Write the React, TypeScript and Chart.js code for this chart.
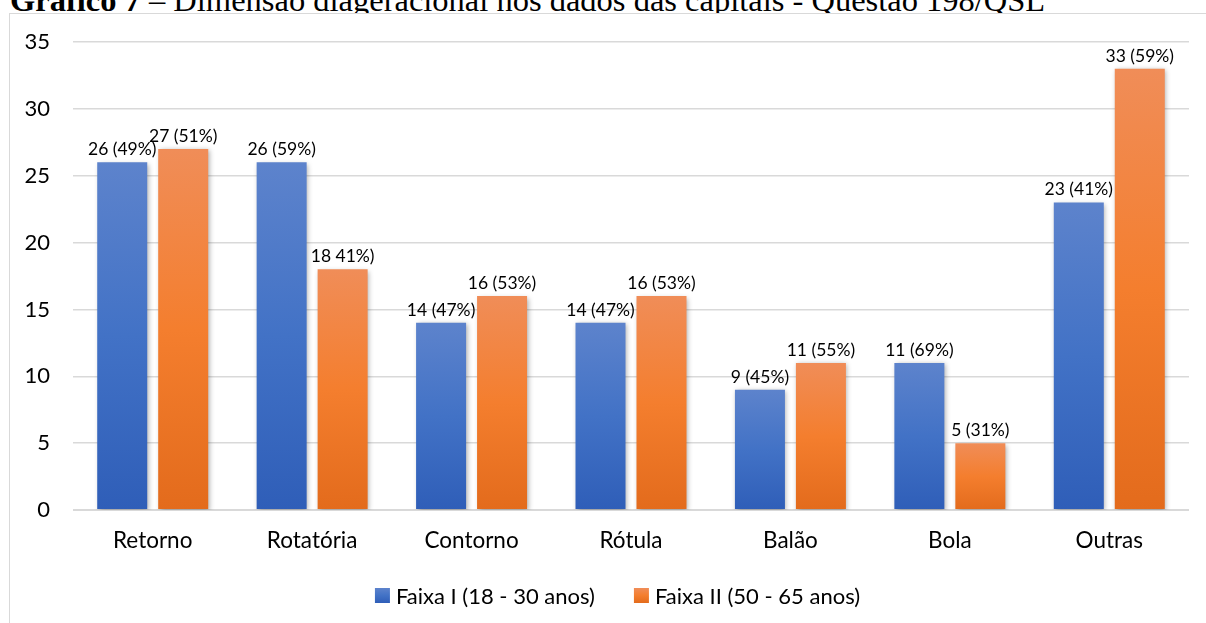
import React, { useEffect, useRef } from "react";
import { Chart, registerables } from "chart.js";

Chart.register(...registerables);

const categories = ["Retorno", "Rotatória", "Contorno", "Rótula", "Balão", "Bola", "Outras"];
const seriesNames = ["Faixa I (18 - 30 anos)", "Faixa II (50 - 65 anos)"];
const faixa1 = [26, 26, 14, 14, 9, 11, 23];
const faixa2 = [27, 18, 16, 16, 11, 5, 33];
const labels1 = ["26 (49%)", "26 (59%)", "14 (47%)", "14 (47%)", "9 (45%)", "11 (69%)", "23 (41%)"];
const labels2 = ["27 (51%)", "18 41%)", "16 (53%)", "16 (53%)", "11 (55%)", "5 (31%)", "33 (59%)"];
const yTicks = [0, 5, 10, 15, 20, 25, 30, 35];
const titleBold = "Gráfico 7";
const titleRest = " – Dimensão diageracional nos dados das capitais - Questão 198/QSL";

const BLUE = ["#5d83cc", "#4272c6", "#2f5eb8"];
const ORANGE = ["#f08d58", "#f47e2e", "#e36b1c"];

function makeGrad(c: CanvasRenderingContext2D, top: number, bottom: number, stops: string[]) {
  const g = c.createLinearGradient(0, top, 0, bottom);
  g.addColorStop(0, stops[0]);
  g.addColorStop(0.5, stops[1]);
  g.addColorStop(1, stops[2]);
  return g;
}

function barColor(stops: string[]) {
  return (ctx: any) => {
    const chart = ctx.chart;
    const y = chart.scales && chart.scales.y;
    if (!chart.chartArea || !y || ctx.raw == null) return stops[1];
    const top = y.getPixelForValue(ctx.raw);
    const bottom = y.getPixelForValue(0);
    if (!isFinite(top) || !isFinite(bottom) || top === bottom) return stops[1];
    return makeGrad(chart.ctx, top, bottom, stops);
  };
}

const FONT = "Lato";

const shadowPlugin = {
  id: "barShadow",
  beforeDatasetsDraw(chart: any) {
    const c = chart.ctx;
    c.save();
    c.shadowColor = "rgba(0,0,0,0.32)";
    c.shadowBlur = 5;
    c.shadowOffsetX = 1.5;
    c.shadowOffsetY = 1.5;
  },
  afterDatasetsDraw(chart: any) {
    const c = chart.ctx;
    c.restore();
    const allLabels = [labels1, labels2];
    c.save();
    c.font = `17.5px ${FONT}`;
    c.fillStyle = "#000";
    c.textAlign = "center";
    c.textBaseline = "alphabetic";
    chart.data.datasets.forEach((ds: any, di: number) => {
      const meta = chart.getDatasetMeta(di);
      meta.data.forEach((el: any, i: number) => {
        c.fillText(allLabels[di][i], el.x, el.y - 7);
      });
    });
    c.restore();
  },
};

const legendPlugin = {
  id: "customLegend",
  afterDraw(chart: any) {
    const c = chart.ctx;
    c.save();
    c.font = `22px ${FONT}`;
    const box = 15;
    const gap = 6;
    const itemGap = 39;
    const widths = seriesNames.map((t) => c.measureText(t).width);
    const total = widths.reduce((a, w) => a + box + gap + w, 0) + itemGap * (seriesNames.length - 1);
    let x = 617.5 - total / 2;
    const cy = 595.5;
    const stops = [BLUE, ORANGE];
    seriesNames.forEach((t, i) => {
      c.fillStyle = makeGrad(c, cy - box / 2, cy + box / 2, stops[i]);
      c.fillRect(x, cy - box / 2, box, box);
      c.fillStyle = "#000";
      c.textAlign = "left";
      c.textBaseline = "middle";
      c.fillText(t, x + box + gap, cy + 1);
      x += box + gap + widths[i] + itemGap;
    });
    c.restore();
  },
};

export default function App() {
  const ref = useRef<HTMLCanvasElement | null>(null);

  useEffect(() => {
    if (!ref.current) return;
    const chart = new Chart(ref.current, {
      type: "bar",
      data: {
        labels: categories,
        datasets: [
          {
            label: seriesNames[0],
            data: faixa1,
            backgroundColor: barColor(BLUE),
            borderWidth: 0,
            categoryPercentage: 0.765,
            barPercentage: 0.82,
          },
          {
            label: seriesNames[1],
            data: faixa2,
            backgroundColor: barColor(ORANGE),
            borderWidth: 0,
            categoryPercentage: 0.765,
            barPercentage: 0.82,
          },
        ],
      },
      options: {
        responsive: false,
        animation: false,
        devicePixelRatio: 1,
        layout: { padding: { left: 0, right: 17, top: 42, bottom: 68 } },
        plugins: {
          legend: { display: false },
          tooltip: { enabled: false },
          title: { display: false },
        },
        scales: {
          x: {
            grid: { display: false, drawTicks: false },
            border: { display: false },
            ticks: { font: { family: FONT, size: 22.5 }, color: "#000", padding: 17 },
            afterFit: (s: any) => {
              s.height = 45;
            },
          },
          y: {
            min: 0,
            max: 35,
            afterBuildTicks: (s: any) => {
              s.ticks = yTicks.map((v) => ({ value: v }));
            },
            grid: {
              drawTicks: false,
              color: "#d9d9d9",
              lineWidth: (ctx: any) => (ctx.tick && ctx.tick.value === 0 ? 2 : 1.4),
            },
            border: { display: false },
            ticks: { font: { family: FONT, size: 22 }, color: "#000", padding: 23 },
            afterFit: (s: any) => {
              s.width = 73;
            },
          },
        },
      },
      plugins: [shadowPlugin, legendPlugin],
    } as any);
    return () => chart.destroy();
  }, []);

  return (
    <div style={{ position: "fixed", inset: 0, overflow: "hidden", background: "#fff" }}>
      <div
        style={{
          position: "absolute",
          left: 10,
          top: -18.5,
          fontFamily: "'Liberation Serif', 'Times New Roman', serif",
          fontSize: 32.5,
          lineHeight: "normal",
          whiteSpace: "nowrap",
          color: "#000",
          zIndex: 0,
        }}
      >
        <b>{titleBold}</b>
        {titleRest}
      </div>
      <div
        style={{
          position: "absolute",
          left: 9,
          top: 13,
          width: 1216,
          height: 700,
          border: "1px solid #d9d9d9",
          background: "#fff",
          zIndex: 1,
        }}
      />
      <canvas
        ref={ref}
        width={1206}
        height={623}
        style={{ position: "absolute", left: 0, top: 0, width: 1206, height: 623, zIndex: 2 }}
      />
    </div>
  );
}
